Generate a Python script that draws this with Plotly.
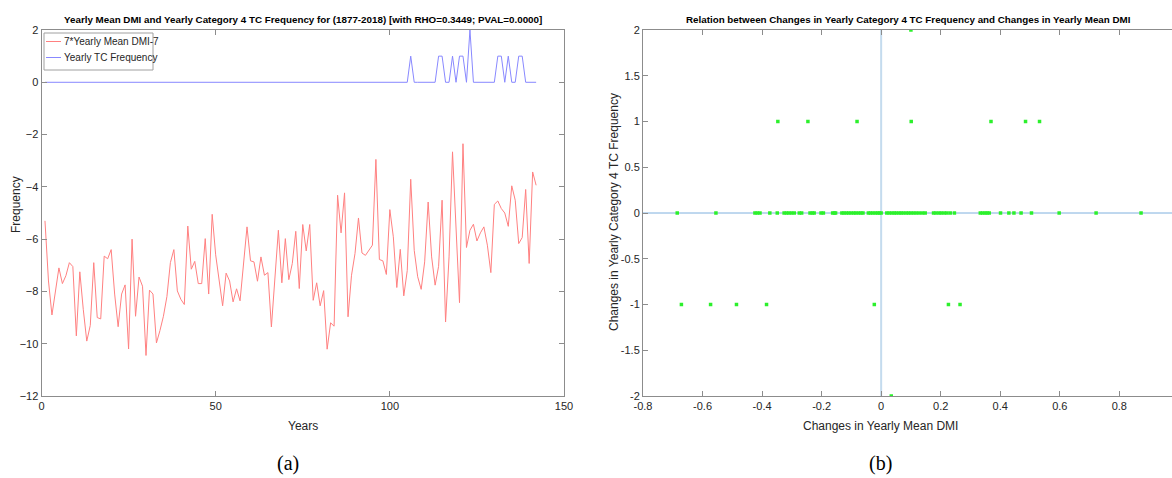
import plotly.graph_objects as go

# ---- data -------------------------------------------------------------
years = list(range(1, 143))

dmi_scaled = [
    -5.3, -7.6, -8.9, -8.0, -7.1, -7.7, -7.4, -6.9, -7.05, -9.7,
    -7.25, -8.7, -9.9, -9.3, -6.9, -9.0, -9.05, -6.65, -6.75, -6.4,
    -8.1, -9.35, -8.1, -7.75, -10.2, -6.0, -8.95, -7.45, -7.8, -10.45,
    -7.95, -8.1, -9.97, -9.5, -8.95, -8.2, -6.9, -6.4, -7.98, -8.3,
    -8.5, -5.5, -7.15, -6.85, -7.7, -7.7, -5.98, -8.1, -5.05, -6.6,
    -7.6, -8.55, -7.3, -7.6, -8.4, -7.9, -8.36, -6.9, -5.53, -6.83,
    -6.87, -7.61, -6.68, -7.38, -7.28, -9.36, -7.3, -5.66, -7.67, -5.98,
    -7.55, -6.93, -5.7, -7.89, -5.44, -6.45, -5.44, -8.34, -7.67, -8.55,
    -7.97, -10.21, -9.2, -9.33, -4.32, -5.76, -4.23, -8.97, -7.38, -6.55,
    -5.19, -6.53, -6.62, -6.43, -6.23, -2.95, -6.78, -6.83, -7.35, -4.87,
    -5.91, -7.85, -6.39, -8.17, -7.2, -3.71, -6.43, -7.44, -7.92, -6.87,
    -4.58, -6.68, -7.76, -7.04, -4.51, -9.17, -6.68, -2.66, -5.6, -8.43,
    -2.35, -6.32, -5.66, -5.43, -6.07, -5.76, -5.53, -6.23, -7.28, -4.67,
    -4.54, -4.83, -5.0, -5.51, -3.96, -4.51, -6.17, -5.94, -4.1, -6.93,
    -3.43, -3.94,
]

tc_freq = ([0] * 105 + [1] + [0] * 7 + [1, 1, 0, 0, 1, 0, 1, 1, 0, 2]
           + [0] * 7 + [1, 1, 0, 1, 0, 0, 1, 1, 0, 0, 0, 0])

series_names = ["7*Yearly Mean DMI-7", "Yearly TC Frequency"]

# year-to-year changes: DMI change (x) vs TC frequency change (y)
d_dmi = [
    # zero change in TC frequency
    -0.685, -0.555, -0.424, -0.416, -0.407, -0.374, -0.349, -0.326, -0.318,
    -0.310, -0.301, -0.292, -0.275, -0.267, -0.239, -0.231, -0.225, -0.202,
    -0.194, -0.163, -0.157, -0.153, -0.132, -0.125, -0.117, -0.109, -0.101,
    -0.092, -0.085, -0.076, -0.068, -0.061, -0.043, -0.036, -0.028, -0.020,
    -0.012, -0.006, 0.000, 0.019, 0.027, 0.036, 0.044, 0.051, 0.060, 0.067,
    0.075, 0.084, 0.092, 0.100, 0.109, 0.118, 0.128, 0.139, 0.148, 0.176,
    0.184, 0.194, 0.202, 0.212, 0.221, 0.232, 0.246, 0.333, 0.341, 0.349,
    0.356, 0.363, 0.401, 0.429, 0.446, 0.470, 0.505, 0.598, 0.722, 0.873,
    # +1
    -0.347, -0.246, -0.081, 0.101, 0.369, 0.485, 0.532,
    # -1
    -0.671, -0.573, -0.486, -0.385, -0.023, 0.226, 0.265,
    # +2 / -2
    0.100, 0.034,
]
d_tc = [0] * 76 + [1] * 7 + [-1] * 7 + [2, -2]

# ---- styling -------------------------------------------------------------
W, H = 1172, 478
AXIS = "#8c8c8c"
RED, BLUE = "#ff8080", "#8888ff"
SANS = "Liberation Sans, Arial, sans-serif"
TICKFONT = dict(family=SANS, size=11, color="#262626")
LABELFONT = dict(family=SANS, size=12, color="#262626")
TITLEFONT = dict(family=SANS, size=9.8, color="#000000")
SERIF = dict(family="Liberation Serif, Times New Roman, serif", size=20, color="#000000")


def px_x(x):
    return x / W


def px_y(y):
    return 1 - y / H


fig = go.Figure()

fig.add_trace(go.Scatter(
    x=years, y=dmi_scaled, mode="lines", name=series_names[0],
    line=dict(color=RED, width=1), xaxis="x", yaxis="y",
))
fig.add_trace(go.Scatter(
    x=years, y=tc_freq, mode="lines", name=series_names[1],
    line=dict(color=BLUE, width=1), xaxis="x", yaxis="y",
))
fig.add_trace(go.Scatter(
    x=d_dmi, y=d_tc, mode="markers",
    marker=dict(color="#2cf02c", size=3.5, symbol="square", line=dict(width=0)),
    xaxis="x2", yaxis="y2",
))

axis_common = dict(
    showgrid=False, zeroline=False, showline=True, linecolor=AXIS, linewidth=1,
    ticks="inside", ticklen=5, tickcolor=AXIS, tickfont=TICKFONT, automargin=False,
)

fig.update_layout(
    width=W, height=H,
    margin=dict(l=0, r=0, t=0, b=0),
    paper_bgcolor="white", plot_bgcolor="white",
    showlegend=False,
    xaxis=dict(domain=[px_x(41.5), px_x(564)], range=[0, 150],
               tickvals=[0, 50, 100, 150], mirror="ticks", anchor="y", **axis_common),
    yaxis=dict(domain=[px_y(396), px_y(30)], range=[-12, 2],
               tickvals=list(range(-12, 3, 2)), mirror="ticks", anchor="x", **axis_common),
    xaxis2=dict(domain=[px_x(643), 1.0], range=[-0.8, 0.977],
                tickvals=[-0.8, -0.6, -0.4, -0.2, 0, 0.2, 0.4, 0.6, 0.8],
                ticktext=["-0.8", "-0.6", "-0.4", "-0.2", "0", "0.2", "0.4", "0.6", "0.8"],
                mirror="ticks", anchor="y2", **axis_common),
    yaxis2=dict(domain=[px_y(396), px_y(30)], range=[-2, 2],
                tickvals=[-2, -1.5, -1, -0.5, 0, 0.5, 1, 1.5, 2],
                ticktext=["-2", "-1.5", "-1", "-0.5", "0", "0.5", "1", "1.5", "2"],
                anchor="x2", **axis_common),
)

# reference lines through the origin of the change plot
fig.add_shape(type="line", xref="x2", yref="y2", x0=-0.8, x1=0.977, y0=0, y1=0,
              line=dict(color="#7fb0de", width=1), layer="below")
fig.add_shape(type="line", xref="x2", yref="y2", x0=0, x1=0, y0=-2, y1=2,
              line=dict(color="#c4dbee", width=2), layer="below")

# legend box for the time-series panel
fig.add_shape(type="rect", xref="paper", yref="paper",
              x0=px_x(44), x1=px_x(153), y0=px_y(70), y1=px_y(33),
              line=dict(color="#a0a0a0", width=1), fillcolor="white", layer="above")
legend_rows = [41.5, 57.5]
annotations = []
for name, color, row in zip(series_names, [RED, BLUE], legend_rows):
    fig.add_shape(type="line", xref="paper", yref="paper",
                  x0=px_x(46), x1=px_x(61), y0=px_y(row), y1=px_y(row),
                  line=dict(color=color, width=1), layer="above")
    annotations.append(dict(text=name, x=px_x(62), y=px_y(row), xanchor="left",
                            font=dict(family=SANS, size=10, color="#262626")))

annotations += [
    dict(text="<b>Yearly Mean DMI and Yearly Category 4 TC Frequency for (1877-2018) [with RHO=0.3449; PVAL=0.0000]</b>",
         x=px_x(303), y=px_y(19), font=TITLEFONT),
    dict(text="<b>Relation between Changes in Yearly Category 4 TC Frequency and Changes in Yearly Mean DMI</b>",
         x=px_x(908), y=px_y(19), font=TITLEFONT),
    dict(text="Years", x=px_x(303), y=px_y(426), font=LABELFONT),
    dict(text="Changes in Yearly Mean DMI", x=px_x(880), y=px_y(426), font=LABELFONT),
    dict(text="Frequency", x=px_x(16), y=px_y(205), textangle=-90, font=LABELFONT),
    dict(text="Changes in Yearly Category 4 TC Frequency", x=px_x(614), y=px_y(212),
         textangle=-90, font=LABELFONT),
    dict(text="(a)", x=px_x(288), y=px_y(463), font=SERIF),
    dict(text="(b)", x=px_x(880), y=px_y(463), font=SERIF),
]
for a in annotations:
    a.setdefault("xanchor", "center")
    a.update(xref="paper", yref="paper", showarrow=False, yanchor="middle")
fig.update_layout(annotations=annotations)

fig.write_html("out.html")
